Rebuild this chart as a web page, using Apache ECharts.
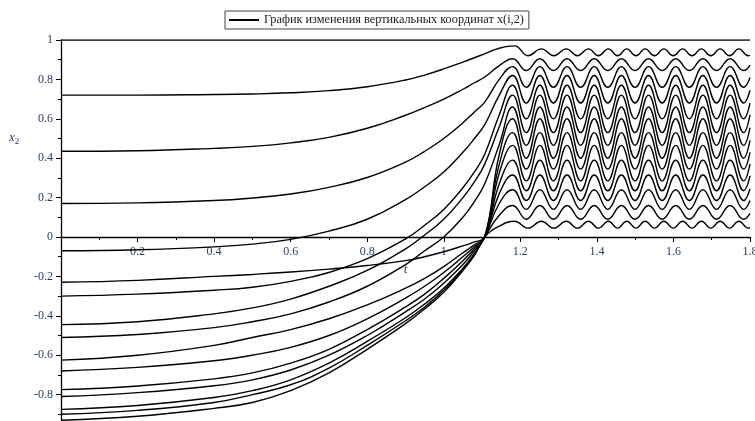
<!DOCTYPE html>
<html>
<head>
<meta charset="utf-8">
<script src="https://cdn.jsdelivr.net/npm/echarts@6/dist/echarts.min.js"></script>
<style>
  html, body { margin: 0; padding: 0; background: #fff; }
  #chart { width: 755px; height: 421px; }
</style>
</head>
<body>
<div id="chart"></div>
<script>
// Time grids (t): fall/rise phase, main swing extrema, edge ripple extrema
const tRise   = [0, 0.2, 0.4, 0.5, 0.6, 0.7, 0.8, 0.9, 0.95, 1.0, 1.05, 1.08, 1.107, 1.145];
const tSwing  = [1.18, 1.2155, 1.251, 1.2865, 1.322, 1.3575, 1.393, 1.4285, 1.464, 1.4995,
                 1.535, 1.5705, 1.606, 1.6415, 1.677, 1.7125, 1.748, 1.7835, 1.8];
const tRipple = [1.185, 1.22, 1.255, 1.2875, 1.32, 1.349, 1.378, 1.404, 1.43, 1.454, 1.478, 1.502,
                 1.526, 1.5505, 1.575, 1.5995, 1.624, 1.6485, 1.673, 1.6975, 1.722, 1.7465, 1.771, 1.7955, 1.8];

// Fixed upper end of the chain
const topT = [0, 1.8];
const topY = [1, 1];

// x(i,2) for each mass: rise phase values on tRise, then oscillation values
const c01Rise = [-0.93, -0.91, -0.87, -0.84, -0.78, -0.69, -0.57, -0.44, -0.365, -0.28, -0.17, -0.093, 0, 0.055];
const c01Osc  = [0.08,0.045,0.08,0.045,0.08,0.045,0.08,0.045,0.08,0.045,0.08,0.045,0.08,0.045,0.08,0.045,0.08,0.045,0.08,0.045,0.08,0.045,0.08,0.045,0.047];
const c02Rise = [-0.90, -0.88, -0.84, -0.80, -0.75, -0.665, -0.55, -0.425, -0.355, -0.27, -0.165, -0.09, 0, 0.11];
const c02Osc  = [0.16,0.09,0.16,0.09,0.16,0.09,0.16,0.09,0.16,0.09,0.16,0.09,0.16,0.09,0.16,0.09,0.16,0.09,0.12];
const c03Rise = [-0.875, -0.855, -0.815, -0.78, -0.725, -0.64, -0.53, -0.41, -0.34, -0.26, -0.158, -0.085, 0, 0.17];
const c03Osc  = [0.24,0.14,0.24,0.14,0.24,0.14,0.24,0.14,0.24,0.14,0.24,0.14,0.24,0.14,0.24,0.14,0.24,0.14,0.185];
const c04Rise = [-0.81, -0.79, -0.755, -0.725, -0.675, -0.6, -0.5, -0.38, -0.315, -0.235, -0.14, -0.07, 0, 0.22];
const c04Osc  = [0.315,0.185,0.315,0.185,0.315,0.185,0.315,0.185,0.315,0.185,0.315,0.185,0.315,0.185,0.315,0.185,0.315,0.185,0.245];
const c05Rise = [-0.775, -0.756, -0.72, -0.69, -0.64, -0.57, -0.47, -0.355, -0.29, -0.21, -0.12, -0.06, 0, 0.27];
const c05Osc  = [0.39,0.235,0.39,0.235,0.39,0.235,0.39,0.235,0.39,0.235,0.39,0.235,0.39,0.235,0.39,0.235,0.39,0.235,0.31];
const c06Rise = [-0.68, -0.662, -0.628, -0.6, -0.56, -0.5, -0.415, -0.31, -0.25, -0.18, -0.1, -0.05, 0, 0.325];
const c06Osc  = [0.465,0.285,0.465,0.285,0.465,0.285,0.465,0.285,0.465,0.285,0.465,0.285,0.465,0.285,0.465,0.285,0.465,0.285,0.37];
const c07Rise = [-0.625, -0.6, -0.55, -0.51, -0.47, -0.415, -0.345, -0.26, -0.21, -0.15, -0.08, -0.04, 0, 0.37];
const c07Osc  = [0.53,0.345,0.53,0.345,0.53,0.345,0.53,0.345,0.53,0.345,0.53,0.345,0.53,0.345,0.53,0.345,0.53,0.345,0.43];
const c08Rise = [-0.51, -0.495, -0.46, -0.43, -0.39, -0.33, -0.25, -0.14, -0.07, 0.0, 0.1, 0.18, 0.27, 0.47];
const c08Osc  = [0.66,0.465,0.66,0.465,0.66,0.465,0.66,0.465,0.66,0.465,0.66,0.465,0.66,0.465,0.66,0.465,0.66,0.465,0.555];
const c09Rise = [-0.445, -0.43, -0.39, -0.36, -0.315, -0.25, -0.17, -0.06, 0.01, 0.09, 0.2, 0.28, 0.37, 0.56];
const c09Osc  = [0.72,0.53,0.72,0.53,0.72,0.53,0.72,0.53,0.72,0.53,0.72,0.53,0.72,0.53,0.72,0.53,0.72,0.53,0.62];
const c10Rise = [-0.30, -0.29, -0.27, -0.255, -0.225, -0.18, -0.11, -0.01, 0.06, 0.14, 0.25, 0.33, 0.42, 0.62];
const c10Osc  = [0.77,0.60,0.77,0.60,0.77,0.60,0.77,0.60,0.77,0.60,0.77,0.60,0.77,0.60,0.77,0.60,0.77,0.60,0.68];
const c11Rise = [-0.23, -0.22, -0.2, -0.19, -0.178, -0.163, -0.145, -0.12, -0.1, -0.075, -0.045, -0.025, 0, 0.42];
const c11Osc  = [0.6,0.4,0.6,0.4,0.6,0.4,0.6,0.4,0.6,0.4,0.6,0.4,0.6,0.4,0.6,0.4,0.6,0.4,0.49];
const c12Rise = [-0.07, -0.065, -0.05, -0.036, -0.012, 0.03, 0.09, 0.19, 0.255, 0.33, 0.43, 0.5, 0.57, 0.72];
const c12Osc  = [0.82,0.68,0.82,0.68,0.82,0.68,0.82,0.68,0.82,0.68,0.82,0.68,0.82,0.68,0.82,0.68,0.82,0.68,0.745];
const c13Rise = [0.17, 0.173, 0.185, 0.198, 0.218, 0.252, 0.302, 0.38, 0.435, 0.5, 0.58, 0.635, 0.685, 0.8];
const c13Osc  = [0.865,0.76,0.865,0.76,0.865,0.76,0.865,0.76,0.865,0.76,0.865,0.76,0.865,0.76,0.865,0.76,0.865,0.76,0.81];
const c14Rise = [0.435, 0.438, 0.45, 0.46, 0.478, 0.506, 0.552, 0.618, 0.657, 0.7, 0.75, 0.783, 0.812, 0.87];
const c14Osc  = [0.905,0.845,0.905,0.845,0.905,0.845,0.905,0.845,0.905,0.845,0.905,0.845,0.905,0.845,0.905,0.845,0.905,0.845,0.873];
const c15Rise = [0.72, 0.72, 0.723, 0.726, 0.732, 0.743, 0.763, 0.797, 0.822, 0.853, 0.888, 0.91, 0.93, 0.958];
const c15Osc  = [0.97,0.92,0.955,0.92,0.955,0.92,0.955,0.92,0.955,0.92,0.955,0.92,0.955,0.92,0.955,0.92,0.955,0.92,0.955,0.92,0.955,0.92,0.955,0.92,0.922];

const seriesName = 'График изменения вертикальных координат x(i,2)';
const labelColor = '#2a3d66';
const serif = 'Liberation Serif, Times New Roman, serif';

function pairs(ts, ys) { return ts.map((t, i) => [t, ys[i]]); }

// each curve: [rise values, oscillation values, oscillation time grid]
const curves = [
  [c01Rise, c01Osc, tRipple], [c02Rise, c02Osc, tSwing], [c03Rise, c03Osc, tSwing],
  [c04Rise, c04Osc, tSwing],  [c05Rise, c05Osc, tSwing], [c06Rise, c06Osc, tSwing],
  [c07Rise, c07Osc, tSwing],  [c08Rise, c08Osc, tSwing], [c09Rise, c09Osc, tSwing],
  [c10Rise, c10Osc, tSwing],  [c11Rise, c11Osc, tSwing], [c12Rise, c12Osc, tSwing],
  [c13Rise, c13Osc, tSwing],  [c14Rise, c14Osc, tSwing], [c15Rise, c15Osc, tRipple]
];

const lineStyle = { color: '#000', width: 1.4 };
const series = [{
  name: seriesName, type: 'line', data: pairs(topT, topY), showSymbol: false, symbol: 'none',
  lineStyle: lineStyle, itemStyle: { color: '#000' }, silent: true
}];
curves.forEach(c => {
  series.push({
    name: seriesName, type: 'line', symbol: 'none', smooth: 0.45,
    data: pairs(tRise, c[0]).concat(pairs(c[2], c[1])),
    lineStyle: lineStyle, itemStyle: { color: '#000' }, silent: true
  });
});

const fmt = v => String(Math.round(v * 10) / 10);

// plot area: y from 1 (top) to -1 (below the visible canvas); zero line at y = 237
const gridTop = 40, gridHeight = 394;
const zeroOffset = -(gridHeight / 2);

const chart = echarts.init(document.getElementById('chart'), null, { renderer: 'canvas' });
chart.setOption({
  animation: false,
  backgroundColor: '#fff',
  grid: { left: 61, width: 689, top: gridTop, height: gridHeight,
          containLabel: false, outerBoundsMode: 'none' },
  legend: {
    data: [seriesName], left: 225, top: 11,
    padding: [3, 5, 3, 4], borderColor: '#444', borderWidth: 1,
    icon: 'rect', itemWidth: 30, itemHeight: 2, itemGap: 5,
    textStyle: { fontFamily: serif, fontSize: 12.3, color: '#222' }
  },
  xAxis: {
    type: 'value', min: 0, max: 1.8, interval: 0.2,
    position: 'bottom', offset: zeroOffset,
    name: 't', nameLocation: 'middle', nameGap: 24,
    nameTextStyle: { fontFamily: serif, fontStyle: 'italic', fontSize: 13, color: labelColor },
    axisLine: { onZero: false, lineStyle: { color: '#000', width: 1.3 } },
    axisTick: { length: 5, lineStyle: { color: '#000' } },
    minorTick: { show: true, splitNumber: 2, length: 3, lineStyle: { color: '#000' } },
    axisLabel: { margin: 9, fontFamily: serif, fontSize: 12, color: labelColor,
                 formatter: v => (v === 0 ? '' : fmt(v)) },
    splitLine: { show: false }
  },
  yAxis: {
    type: 'value', min: -1, max: 1, interval: 0.2,
    axisLine: { show: true, onZero: false, lineStyle: { color: '#000', width: 1.3 } },
    axisTick: { show: true, length: 5, lineStyle: { color: '#000' } },
    minorTick: { show: true, splitNumber: 2, length: 3, lineStyle: { color: '#000' } },
    axisLabel: { margin: 8, fontFamily: serif, fontSize: 12, color: labelColor, formatter: fmt },
    splitLine: { show: false }
  },
  graphic: [{
    type: 'text', left: 9, top: 131,
    style: {
      text: '{x|x}{s|2}',
      rich: {
        x: { fontFamily: serif, fontStyle: 'italic', fontSize: 13, fill: labelColor },
        s: { fontFamily: serif, fontSize: 9, fill: labelColor, padding: [8, 0, 0, 0] }
      }
    }
  }],
  series: series
});
</script>
</body>
</html>
